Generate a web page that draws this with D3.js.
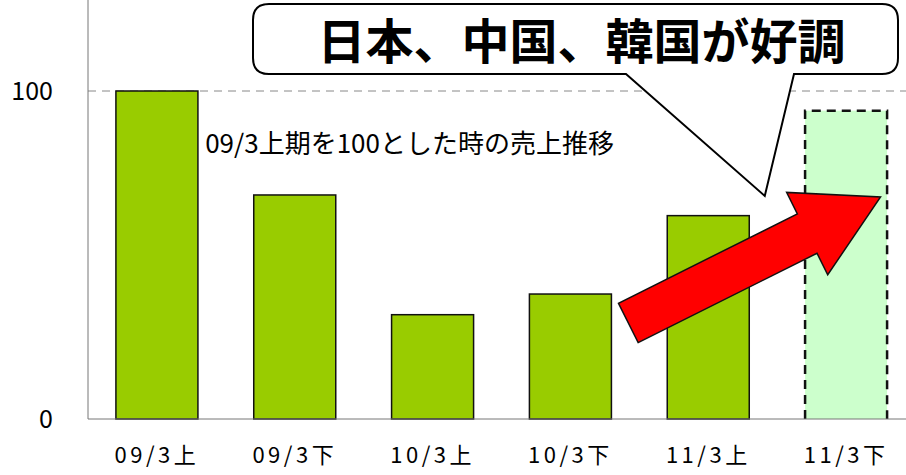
<!DOCTYPE html>
<html>
<head>
<meta charset="utf-8">
<script src="https://cdn.jsdelivr.net/npm/d3@7"></script>
<style>
  body { margin: 0; background: #fff; }
  text { font-family: "Noto Sans CJK JP", "DejaVu Sans", sans-serif; }
</style>
</head>
<body>
<div id="chart"></div>
<script>
// chart data
const categories = ["09/3上", "09/3下", "10/3上", "10/3下", "11/3上", "11/3下"];
const values = [100, 68.3, 31.8, 38.1, 62, 94];
const forecast = [false, false, false, false, false, true];
const yTicks = [0, 100];
const headline = "日本、中国、韓国が好調";
const note = "09/3上期を100とした時の売上推移";

const W = 906, H = 475;
const margin = { top: 0, right: -9, bottom: 56, left: 88 };
const width = W - margin.left - margin.right;
const height = H - margin.top - margin.bottom;

const svg = d3.select("#chart").append("svg")
  .attr("width", W)
  .attr("height", H);

const g = svg.append("g")
  .attr("transform", `translate(${margin.left},${margin.top})`);

const x = d3.scaleBand()
  .domain(categories)
  .range([0, width])
  .paddingInner(0.405)
  .paddingOuter(0.2025);

// continuous position in category units, for the annotations
const xu = d3.scaleLinear().domain([0, categories.length]).range([0, width]);

const y = d3.scaleLinear()
  .domain([0, 100])
  .range([419, 91]);

// dashed reference line at 100
g.append("line")
  .attr("x1", 0).attr("x2", width)
  .attr("y1", y(100)).attr("y2", y(100))
  .attr("stroke", "#888")
  .attr("stroke-width", 1)
  .attr("stroke-dasharray", "8,6");

// bars
const bars = g.selectAll(".bar")
  .data(categories)
  .enter().append("g")
  .attr("class", "bar");

bars.append("rect")
  .attr("x", d => x(d))
  .attr("width", x.bandwidth())
  .attr("y", (d, i) => y(values[i]))
  .attr("height", (d, i) => y(0) - y(values[i]))
  .attr("fill", (d, i) => forecast[i] ? "#ccffcc" : "#99cc00")
  .attr("stroke", (d, i) => forecast[i] ? "none" : "#111")
  .attr("stroke-width", 1.5);

// forecast bar: dashed outline on three sides
bars.filter((d, i) => forecast[i]).append("path")
  .attr("d", d => {
    const i = categories.indexOf(d);
    return d3.line()([
      [x(d), y(0)], [x(d), y(values[i])],
      [x(d) + x.bandwidth(), y(values[i])], [x(d) + x.bandwidth(), y(0)]
    ]);
  })
  .attr("fill", "none")
  .attr("stroke", "#111")
  .attr("stroke-width", 2.5)
  .attr("stroke-dasharray", "9,6");

// axes
const yAxis = g.append("g")
  .call(d3.axisLeft(y).tickValues(yTicks).tickSize(0).tickPadding(35));
yAxis.select(".domain").remove();
yAxis.selectAll("text")
  .attr("font-size", 25)
  .attr("font-family", "'Liberation Sans', Arial, sans-serif")
  .attr("fill", "#000");

g.append("line")
  .attr("x1", 0).attr("x2", 0)
  .attr("y1", 0).attr("y2", y(0))
  .attr("stroke", "#777");
g.append("line")
  .attr("x1", 0).attr("x2", width)
  .attr("y1", y(0)).attr("y2", y(0))
  .attr("stroke", "#777");

const xAxis = g.append("g")
  .attr("transform", `translate(0,${y(0)})`)
  .call(d3.axisBottom(x).tickSize(0).tickPadding(28));
xAxis.select(".domain").remove();
xAxis.selectAll("text")
  .attr("font-size", 22)
  .attr("fill", "#000")
  .attr("letter-spacing", "3.5px");

// note text
g.append("text")
  .attr("x", xu(0.85))
  .attr("y", 153)
  .attr("font-size", 26)
  .attr("fill", "#000")
  .text(note);

// red arrow, defined in category units / values
const tail = [xu(3.92), y(29.3)];
const tip = [xu(5.75), y(67.7)];
const dx = tip[0] - tail[0], dy = tip[1] - tail[1];
const len = Math.hypot(dx, dy);
const ux = dx / len, uy = dy / len, nx = -uy, ny = ux;
const shaftHalf = 22, headHalf = 46, headLen = 82;
const P = (a, b) => [tail[0] + ux * a + nx * b, tail[1] + uy * a + ny * b];
const arrowPts = [
  P(0, shaftHalf), P(len - headLen, shaftHalf), P(len - headLen, headHalf),
  P(len, 0),
  P(len - headLen, -headHalf), P(len - headLen, -shaftHalf), P(0, -shaftHalf)
];
g.append("path")
  .attr("d", d3.line()(arrowPts) + "Z")
  .attr("fill", "#ff0000")
  .attr("stroke", "#111")
  .attr("stroke-width", 1.5)
  .attr("stroke-linejoin", "miter");

// callout bubble
const bx0 = 253 - margin.left, bx1 = 898 - margin.left, by0 = 4, by1 = 74, r = 16;
const tailTip = [xu(4.91), y(68)];
const tb0 = 626 - margin.left, tb1 = 794 - margin.left;
const bubble = d3.path();
bubble.moveTo(bx0 + r, by0);
bubble.lineTo(bx1 - r, by0);
bubble.quadraticCurveTo(bx1, by0, bx1, by0 + r);
bubble.lineTo(bx1, by1 - r);
bubble.quadraticCurveTo(bx1, by1, bx1 - r, by1);
bubble.lineTo(tb1, by1);
bubble.lineTo(tailTip[0], tailTip[1]);
bubble.lineTo(tb0, by1);
bubble.lineTo(bx0 + r, by1);
bubble.quadraticCurveTo(bx0, by1, bx0, by1 - r);
bubble.lineTo(bx0, by0 + r);
bubble.quadraticCurveTo(bx0, by0, bx0 + r, by0);
bubble.closePath();
g.append("path")
  .attr("d", bubble.toString())
  .attr("fill", "#fff")
  .attr("stroke", "#000")
  .attr("stroke-width", 2);

g.append("text")
  .attr("x", (bx0 + bx1) / 2 + 6)
  .attr("y", 59)
  .attr("text-anchor", "middle")
  .attr("font-size", 48)
  .attr("font-weight", "bold")
  .attr("fill", "#000")
  .text(headline);
</script>
</body>
</html>
